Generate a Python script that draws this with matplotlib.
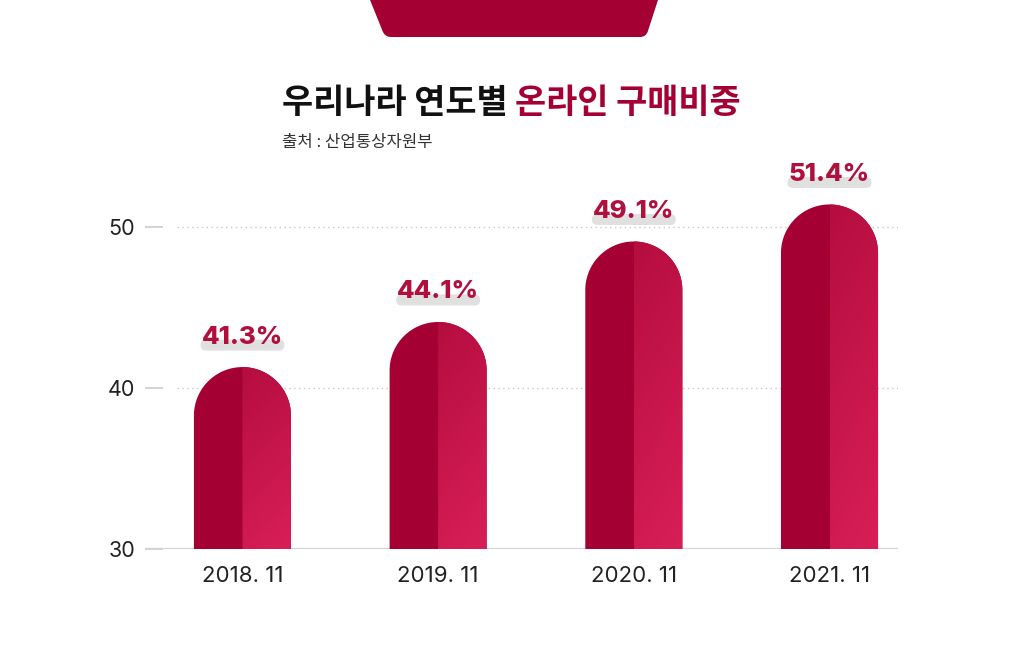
import numpy as np
import matplotlib
matplotlib.use('Agg')
import matplotlib.pyplot as plt
from matplotlib.path import Path
from matplotlib.patches import PathPatch, FancyBboxPatch, Polygon
from matplotlib.colors import to_rgb
from matplotlib.transforms import IdentityTransform

plt.rcParams['font.family'] = ['Noto Sans CJK KR', 'DejaVu Sans']
NUM_FONT = ['Inter', 'Noto Sans CJK KR', 'DejaVu Sans']

# ---- data ----
categories = ['2018. 11', '2019. 11', '2020. 11', '2021. 11']
values = [41.3, 44.1, 49.1, 51.4]
value_labels = ['41.3%', '44.1%', '49.1%', '51.4%']
yticks = [30, 40, 50]
title_black = '우리나라 연도별 '
title_red = '온라인 구매비중'
subtitle = '출처 : 산업통상자원부'

# ---- style ----
DARK = '#A50034'
GRAD_TOP = '#B50D3F'
GRAD_BOT = '#D81F57'
LABEL_RED = '#B0103E'

W, H = 1024, 651
fig = plt.figure(figsize=(W / 100, H / 100), dpi=100)
fig.patch.set_facecolor('white')
ax = fig.add_axes([145 / W, 102 / H, 753 / W, 402.5 / H])
ymin, ymax = 30, 55
xlim = (-0.498, 3.350)
ax.set_ylim(ymin, ymax)
ax.set_xlim(*xlim)

p0 = ax.transData.transform((0, 30))
p1 = ax.transData.transform((1, 31))
sx = p1[0] - p0[0]
sy = p1[1] - p0[1]
w = 0.496
ry = (w / 2) * sx / sy

c_top = np.array(to_rgb(GRAD_TOP))
c_bot = np.array(to_rgb(GRAD_BOT))
ny, nx = 200, 40
yy, xx = np.mgrid[0:1:ny * 1j, 0:1:nx * 1j]
t = np.clip(0.8 * yy + 0.2 * xx, 0, 1)  # yy=0 at top row
grad = c_top[None, None, :] * (1 - t[..., None]) + c_bot[None, None, :] * t[..., None]

for i, v in enumerate(values):
    cx = i
    cy = v - ry
    th = np.linspace(np.pi, 0, 120)
    full_pts = [(cx - w / 2, ymin)] + [(cx + (w / 2) * np.cos(a), cy + ry * np.sin(a)) for a in th] + [(cx + w / 2, ymin)]
    ax.add_patch(Polygon(full_pts, closed=True, fc=DARK, ec='none', zorder=3))
    th_r = np.linspace(np.pi / 2, 0, 60)
    right_pts = [(cx, ymin)] + [(cx + (w / 2) * np.cos(a), cy + ry * np.sin(a)) for a in th_r] + [(cx + w / 2, ymin)]
    rp = Polygon(right_pts, closed=True, fc='none', ec='none', zorder=3)
    ax.add_patch(rp)
    im = ax.imshow(grad, extent=[cx, cx + w / 2, ymin, v], aspect='auto', zorder=3.5, interpolation='bilinear')
    im.set_clip_path(rp)

    # value label with highlight
    px, py = ax.transData.transform((cx, v))
    tc = py + 31
    hl = FancyBboxPatch((px - 42, tc - 14.5), 84, 11,
                        boxstyle='round,pad=0,rounding_size=5.5',
                        transform=IdentityTransform(), fc='#E0E0E0', ec='none',
                        zorder=4, clip_on=False)
    ax.add_patch(hl)
    ax.text(px, tc - 1, value_labels[i], transform=IdentityTransform(), ha='center', va='center',
            fontsize=18.5, fontweight='heavy', color=LABEL_RED, zorder=5, clip_on=False,
            family=NUM_FONT)

ax.set_xlim(*xlim)
ax.set_ylim(ymin, ymax)

# gridlines
for yv in [40, 50]:
    ax.axhline(yv, xmin=32 / 753, xmax=1, color='#c8c8c8', lw=1.0, ls=(0, (1, 2.5)), zorder=1)
ax.axhline(30, color='#d3d3d3', lw=1.6, zorder=2)

for s in ax.spines.values():
    s.set_visible(False)
ax.set_yticks(yticks)
ax.set_yticklabels([str(y) for y in yticks], family=NUM_FONT)
ax.tick_params(axis='y', direction='in', length=13, width=1.2, color='#cccccc',
               pad=7, labelsize=15.5, labelcolor='#222222')
ax.set_xticks(range(len(categories)))
ax.set_xticklabels(categories, family=NUM_FONT)
ax.tick_params(axis='x', length=0, pad=12, labelsize=16, labelcolor='#222222')

# title
t1 = fig.text(282 / W, 1 - 103 / H, title_black, fontsize=24.4, fontweight='bold',
              color='#111111', va='center', ha='left')
r = fig.canvas.get_renderer()
bb = t1.get_window_extent(r)
fig.text(bb.x1 / W, 1 - 103 / H, title_red, fontsize=24.4, fontweight='bold',
         color=DARK, va='center', ha='left')
fig.text(282 / W, 1 - 143 / H, subtitle, fontsize=12, color='#333333', va='center', ha='left')

# top decoration
verts = [(366.4, 660), (382.7, 619.6), (385, 614), (391, 614), (640, 614), (646, 614),
         (647.85, 619.7), (660.9, 660), (366.4, 660)]
codes = [Path.MOVETO, Path.LINETO, Path.CURVE3, Path.CURVE3, Path.LINETO, Path.CURVE3,
         Path.CURVE3, Path.LINETO, Path.CLOSEPOLY]
fig.add_artist(PathPatch(Path(verts, codes), transform=IdentityTransform(), fc=DARK, ec='none'))

fig.savefig('out.png', dpi=100)
